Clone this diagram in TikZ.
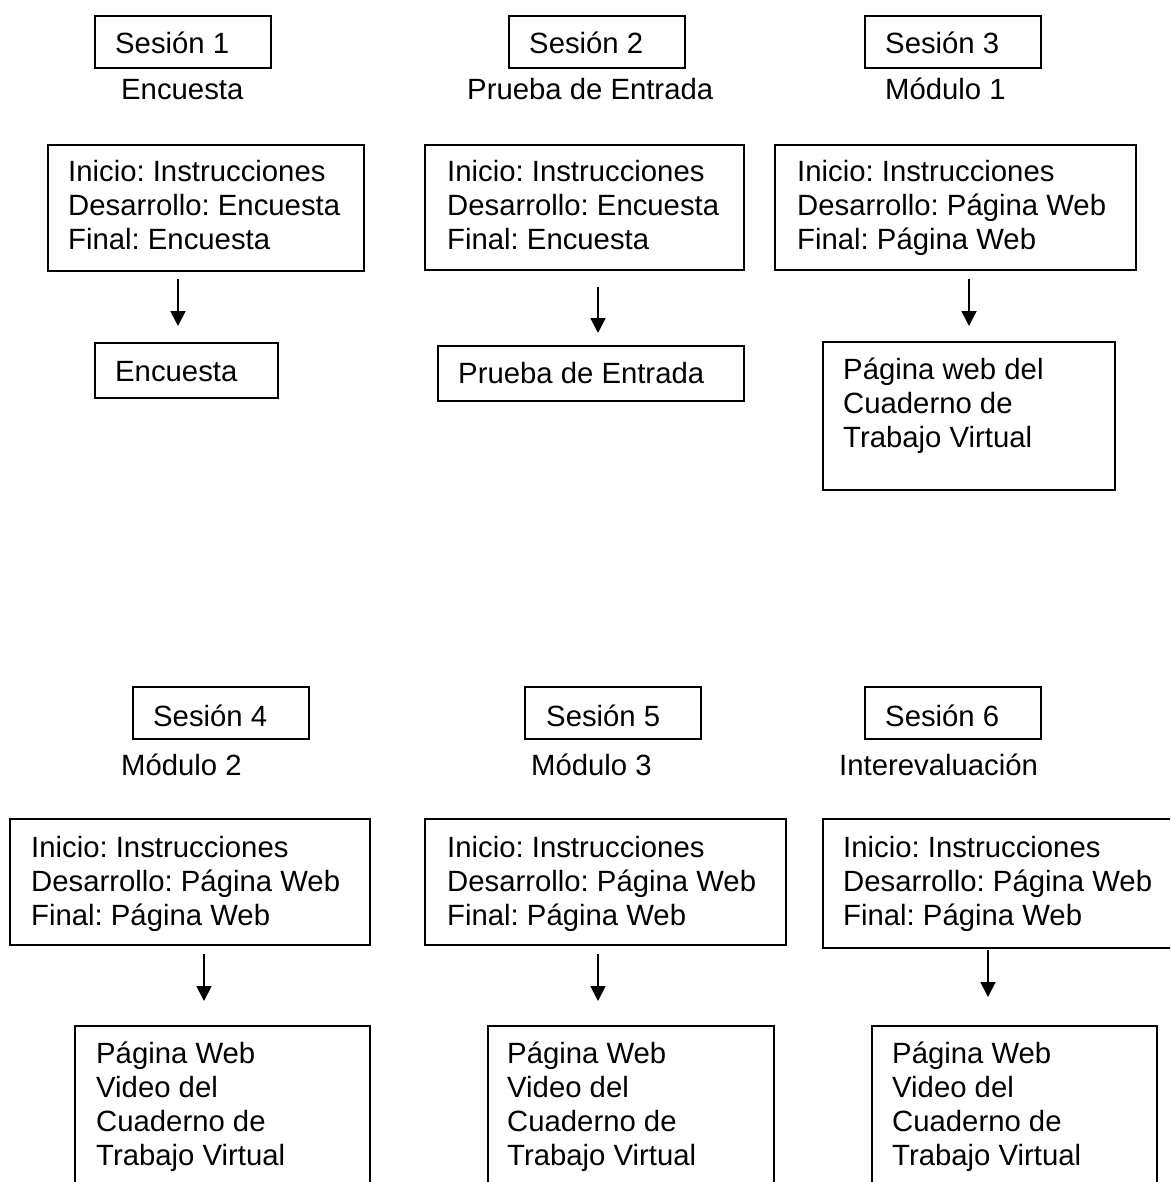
\documentclass[tikz,border=0pt]{standalone}
\usepackage{fontspec}
\setmainfont{Liberation Sans}
\frenchspacing
\usetikzlibrary{arrows.meta}
\tikzset{
  boxnode/.style={draw=black, line width=1.6pt, rectangle, anchor=north west, inner sep=0pt},
  txt/.style={anchor=base west, inner sep=0pt, align=left, font=\frenchspacing\fontsize{29.3}{34}\selectfont},
  arr/.style={line width=1.8pt, -{Triangle[width=15pt,length=15pt]}}
}
\begin{document}
\begin{tikzpicture}[x=1pt,y=-1pt]
\useasboundingbox (0,0) rectangle (1170,1182);
\clip (0,0) rectangle (1170,1182);

% ---------- Top row ----------
% Session 1
\node[boxnode, minimum width=176pt, minimum height=52pt] (s1) at (94,15) {};
\node[txt] (s1t) at (115,54) {Sesión 1};
\node[txt] (l1) at (121,100) {Encuesta};
\node[boxnode, minimum width=316pt, minimum height=126pt] (b1) at (47,144) {};
\node[txt] (b1t) at (68,250) {Inicio: Instrucciones\\Desarrollo: Encuesta\\Final: Encuesta};
\coordinate (a1s) at (178,279);
\coordinate (a1e) at (178,326);
\draw[arr] (a1s) -- (a1e);
\node[boxnode, minimum width=183pt, minimum height=55pt] (r1) at (94,342) {};
\node[txt] (r1t) at (115,381) {Encuesta};

% Session 2
\node[boxnode, minimum width=176pt, minimum height=52pt] (s2) at (508,15) {};
\node[txt] (s2t) at (529,54) {Sesión 2};
\node[txt] (l2) at (467,100) {Prueba de Entrada};
\node[boxnode, minimum width=319pt, minimum height=125pt] (b2) at (424,144) {};
\node[txt] (b2t) at (447,250) {Inicio: Instrucciones\\Desarrollo: Encuesta\\Final: Encuesta};
\coordinate (a2s) at (598,287);
\coordinate (a2e) at (598,333);
\draw[arr] (a2s) -- (a2e);
\node[boxnode, minimum width=306pt, minimum height=55pt] (r2) at (437,345) {};
\node[txt] (r2t) at (458,383) {Prueba de Entrada};

% Session 3
\node[boxnode, minimum width=176pt, minimum height=52pt] (s3) at (864,15) {};
\node[txt] (s3t) at (885,54) {Sesión 3};
\node[txt] (l3) at (885,100) {Módulo 1};
\node[boxnode, minimum width=361pt, minimum height=125pt] (b3) at (774,144) {};
\node[txt] (b3t) at (797,250) {Inicio: Instrucciones\\Desarrollo: Página Web\\Final: Página Web};
\coordinate (a3s) at (969,279);
\coordinate (a3e) at (969,326);
\draw[arr] (a3s) -- (a3e);
\node[boxnode, minimum width=292pt, minimum height=148pt] (r3) at (822,341) {};
\node[txt] (r3t) at (843,447) {Página web del\\Cuaderno de\\Trabajo Virtual};

% ---------- Bottom row ----------
% Session 4
\node[boxnode, minimum width=176pt, minimum height=52pt] (s4) at (132,686) {};
\node[txt] (s4t) at (153,726) {Sesión 4};
\node[txt] (l4) at (121,775) {Módulo 2};
\node[boxnode, minimum width=360pt, minimum height=126pt] (b4) at (9,818) {};
\node[txt] (b4t) at (31,925) {Inicio: Instrucciones\\Desarrollo: Página Web\\Final: Página Web};
\coordinate (a4s) at (204,954);
\coordinate (a4e) at (204,1001);
\draw[arr] (a4s) -- (a4e);
\node[boxnode, minimum width=295pt, minimum height=200pt] (r4) at (74,1025) {};
\node[txt] (r4t) at (96,1165) {Página Web\\Video del\\Cuaderno de\\Trabajo Virtual};

% Session 5
\node[boxnode, minimum width=176pt, minimum height=52pt] (s5) at (524,686) {};
\node[txt] (s5t) at (546,726) {Sesión 5};
\node[txt] (l5) at (531,775) {Módulo 3};
\node[boxnode, minimum width=361pt, minimum height=126pt] (b5) at (424,818) {};
\node[txt] (b5t) at (447,925) {Inicio: Instrucciones\\Desarrollo: Página Web\\Final: Página Web};
\coordinate (a5s) at (598,954);
\coordinate (a5e) at (598,1001);
\draw[arr] (a5s) -- (a5e);
\node[boxnode, minimum width=286pt, minimum height=200pt] (r5) at (487,1025) {};
\node[txt] (r5t) at (507,1165) {Página Web\\Video del\\Cuaderno de\\Trabajo Virtual};

% Session 6
\node[boxnode, minimum width=176pt, minimum height=52pt] (s6) at (864,686) {};
\node[txt] (s6t) at (885,726) {Sesión 6};
\node[txt] (l6) at (839,775) {Interevaluación};
\node[boxnode, minimum width=380pt, minimum height=129pt] (b6) at (822,818) {};
\node[txt] (b6t) at (843,925) {Inicio: Instrucciones\\Desarrollo: Página Web\\Final: Página Web};
\coordinate (a6s) at (988,950);
\coordinate (a6e) at (988,997);
\draw[arr] (a6s) -- (a6e);
\node[boxnode, minimum width=285pt, minimum height=200pt] (r6) at (871,1025) {};
\node[txt] (r6t) at (892,1165) {Página Web\\Video del\\Cuaderno de\\Trabajo Virtual};
\end{tikzpicture}
\end{document}
